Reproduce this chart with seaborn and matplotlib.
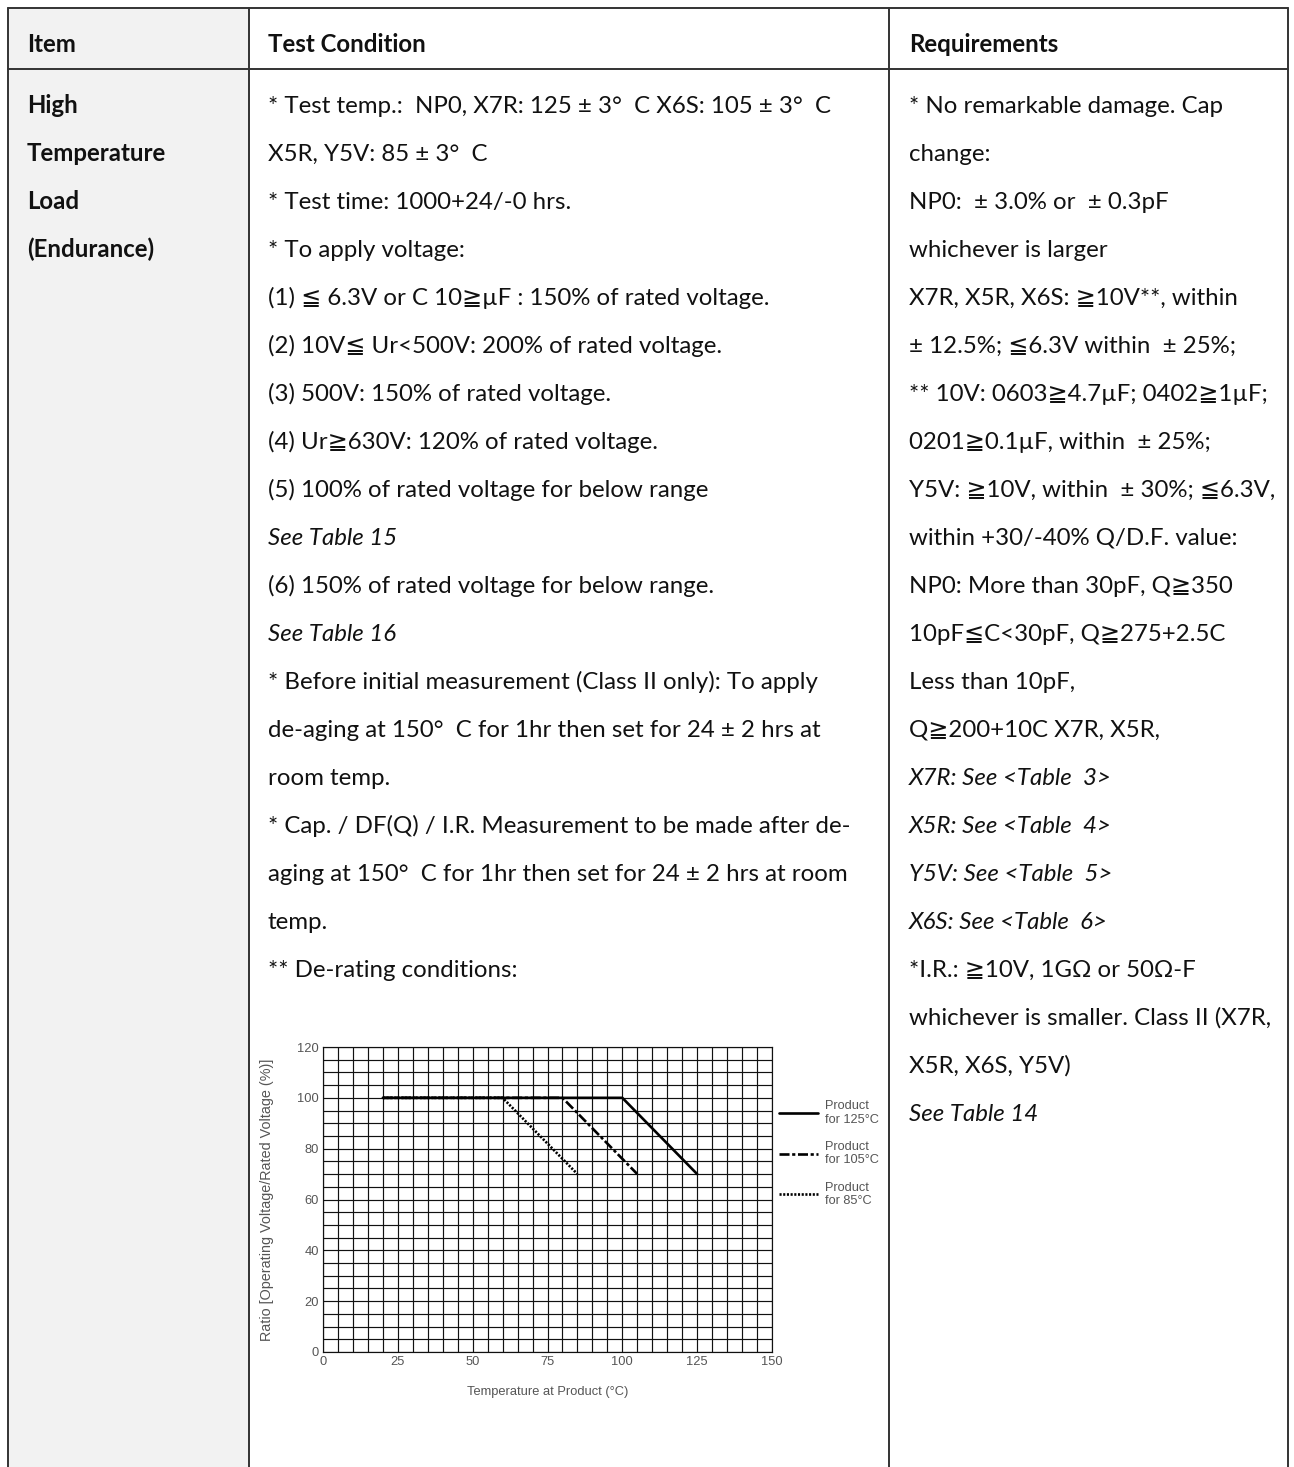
import numpy as np
import pandas as pd
import matplotlib
matplotlib.use("Agg")
import matplotlib.pyplot as plt
from matplotlib.lines import Line2D
from matplotlib.patches import Rectangle
import seaborn as sns

# ---------------- data ----------------
header_labels = ["Item", "Test Condition", "Requirements"]
item_lines = ["High", "Temperature", "Load", "(Endurance)"]
condition_lines = [
    "* Test temp.:  NP0, X7R: 125 ± 3°  C X6S: 105 ± 3°  C",
    "X5R, Y5V: 85 ± 3°  C",
    "* Test time: 1000+24/-0 hrs.",
    "* To apply voltage:",
    "(1) ≦ 6.3V or C 10≧µF : 150% of rated voltage.",
    "(2) 10V≦ Ur<500V: 200% of rated voltage.",
    "(3) 500V: 150% of rated voltage.",
    "(4) Ur≧630V: 120% of rated voltage.",
    "(5) 100% of rated voltage for below range",
    "See Table 15",
    "(6) 150% of rated voltage for below range.",
    "See Table 16",
    "* Before initial measurement (Class II only): To apply",
    "de-aging at 150°  C for 1hr then set for 24 ± 2 hrs at",
    "room temp.",
    "* Cap. / DF(Q) / I.R. Measurement to be made after de-",
    "aging at 150°  C for 1hr then set for 24 ± 2 hrs at room",
    "temp.",
    "** De-rating conditions:",
]
condition_italic = {9, 11}
requirement_lines = [
    "* No remarkable damage. Cap",
    "change:",
    "NP0:  ± 3.0% or  ± 0.3pF",
    "whichever is larger",
    "X7R, X5R, X6S: ≧10V**, within",
    "± 12.5%; ≦6.3V within  ± 25%;",
    "** 10V: 0603≧4.7µF; 0402≧1µF;",
    "0201≧0.1µF, within  ± 25%;",
    "Y5V: ≧10V, within  ± 30%; ≦6.3V,",
    "within +30/-40% Q/D.F. value:",
    "NP0: More than 30pF, Q≧350",
    "10pF≦C<30pF, Q≧275+2.5C",
    "Less than 10pF,",
    "Q≧200+10C X7R, X5R,",
    "X7R: See <Table  3>",
    "X5R: See <Table  4>",
    "Y5V: See <Table  5>",
    "X6S: See <Table  6>",
    "*I.R.: ≧10V, 1GΩ or 50Ω-F",
    "whichever is smaller. Class II (X7R,",
    "X5R, X6S, Y5V)",
    "See Table 14",
]
requirement_italic = {14, 15, 16, 17, 21}

products = ["Product\nfor 125°C", "Product\nfor 105°C", "Product\nfor 85°C"]
temp_125 = [20, 100, 125]
ratio_125 = [100, 100, 70]
temp_105 = [20, 80, 105]
ratio_105 = [100, 100, 70]
temp_85 = [20, 60, 85]
ratio_85 = [100, 100, 70]
x_ticks = [0, 25, 50, 75, 100, 125, 150]
y_ticks = [0, 20, 40, 60, 80, 100, 120]

df = pd.DataFrame({
    "temp": temp_85 + temp_105 + temp_125,
    "ratio": ratio_85 + ratio_105 + ratio_125,
    "product": [products[2]] * 3 + [products[1]] * 3 + [products[0]] * 3,
})

# ---------------- figure ----------------
sns.set_theme(style="white")
W, H = 1294, 1467
fig = plt.figure(figsize=(W / 100, H / 100), dpi=100)
fig.patch.set_facecolor("white")

TXT = ["Lato", "DejaVu Sans", "Noto Sans CJK SC"]
FS = 17.3

bg = fig.add_axes([0, 0, 1, 1])
bg.set_xlim(0, W)
bg.set_ylim(H, 0)
bg.axis("off")

left, c1, c2, right, top, hline = 8, 249, 889, 1288, 8, 69
bg.add_patch(Rectangle((left, top), c1 - left, H - top, facecolor="#f2f2f2", edgecolor="none"))
lc = "#333333"
lw = 1.4
bg.plot([left, right], [top, top], color=lc, lw=lw)
bg.plot([left, right], [hline, hline], color=lc, lw=lw)
for xv in (left, c1, c2, right):
    bg.plot([xv, xv], [top, H], color=lc, lw=lw)

col_x = [27, 268, 909]
for x, t in zip(col_x, header_labels):
    bg.text(x, 52, t, fontsize=FS, fontweight="bold", family=TXT, va="baseline", ha="left", color="#111")

base0, step = 113, 48
for i, t in enumerate(item_lines):
    bg.text(col_x[0], base0 + i * step, t, fontsize=FS, fontweight="bold", family=TXT,
            va="baseline", ha="left", color="#111")
for i, t in enumerate(condition_lines):
    bg.text(col_x[1], base0 + i * step, t, fontsize=FS, family=TXT,
            style="italic" if i in condition_italic else "normal",
            va="baseline", ha="left", color="#111")
for i, t in enumerate(requirement_lines):
    bg.text(col_x[2], base0 + i * step, t, fontsize=FS, family=TXT,
            style="italic" if i in requirement_italic else "normal",
            va="baseline", ha="left", color="#111")

# ---------------- chart ----------------
ax_l, ax_r, ax_t, ax_b = 323, 772, 1047, 1352
ax = fig.add_axes([ax_l / W, 1 - ax_b / H, (ax_r - ax_l) / W, (ax_b - ax_t) / H])
ax.set_facecolor("white")

dash_map = {products[0]: "", products[1]: (3.8, 1.0, 1.2, 1.0), products[2]: (0.8, 0.6)}
sns.lineplot(data=df, x="temp", y="ratio", style="product",
             style_order=[products[2], products[1], products[0]],
             dashes=dash_map, color="black", linewidth=1.9, legend=False, ax=ax,
             zorder=5)

AR = ["Liberation Sans", "DejaVu Sans"]
TC = "#555555"
ax.set_xlim(0, 150)
ax.set_ylim(0, 120)
ax.set_xticks(x_ticks)
ax.set_yticks(y_ticks)
ax.set_xticks(np.arange(0, 151, 5), minor=True)
ax.set_yticks(np.arange(0, 121, 5), minor=True)
ax.grid(True, which="both", color="#111111", linewidth=0.85)
ax.tick_params(which="both", length=0, labelsize=9.3, labelcolor=TC, pad=3)
for lab in ax.get_xticklabels() + ax.get_yticklabels():
    lab.set_family(AR)
for s in ax.spines.values():
    s.set_visible(True)
    s.set_color("#111111")
    s.set_linewidth(0.85)

ax.set_xlabel("Temperature at Product (°C)", fontsize=9.3, color=TC, family=AR)
ax.xaxis.set_label_coords(0.5, -0.11)
ax.set_ylabel("Ratio [Operating Voltage/Rated Voltage (%)]", fontsize=10.4, color=TC, family=AR)
ax.yaxis.set_label_coords(-0.109, 0.5)

handles = [Line2D([0], [0], color="black", lw=1.9, linestyle="-"),
           Line2D([0], [0], color="black", lw=1.9, dashes=dash_map[products[1]]),
           Line2D([0], [0], color="black", lw=1.9, dashes=dash_map[products[2]])]
leg = ax.legend(handles, products, loc="upper left", bbox_to_anchor=(1.0156, 0.825),
                frameon=False, handlelength=3.05, handletextpad=0.55, labelspacing=1.2,
                prop={"family": AR, "size": 9.2}, borderaxespad=0, borderpad=0)
for t in leg.get_texts():
    t.set_color(TC)
    t.set_linespacing(1.15)

fig.savefig("out.png", dpi=100, facecolor="white")
